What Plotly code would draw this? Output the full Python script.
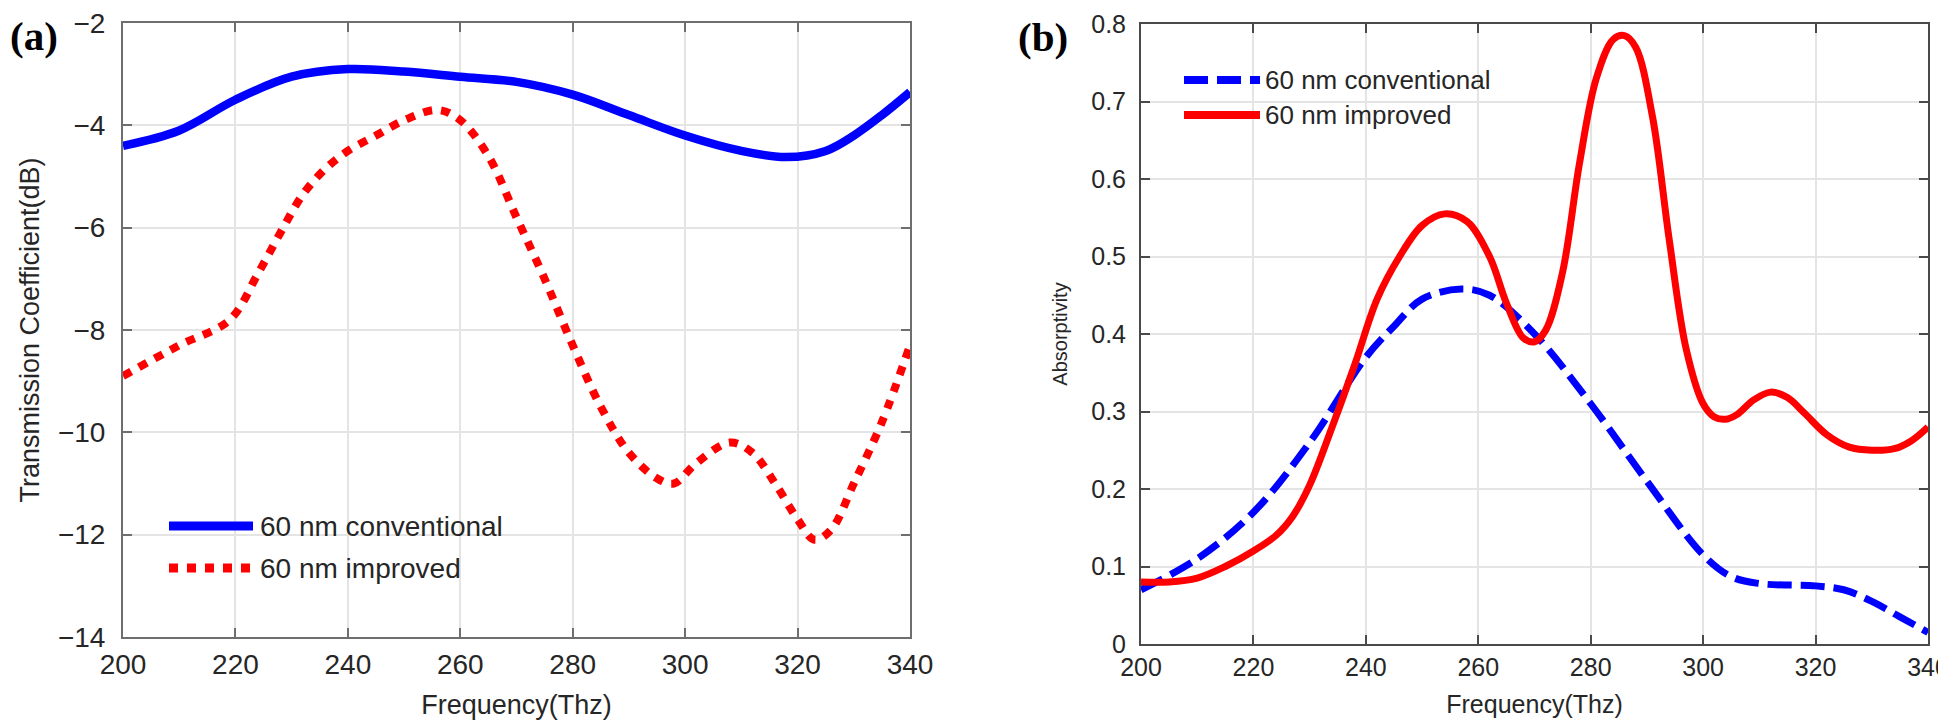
import plotly.graph_objects as go

# ---- data (a) transmission coefficient (dB) ----
freq_a_conv = [200, 210, 220, 230, 240, 250, 260, 270, 280, 290, 300, 310, 318, 325, 330, 335, 340]
tc_conv = [-4.4, -4.1, -3.5, -3.05, -2.9, -2.95, -3.05, -3.15, -3.4, -3.8, -4.2, -4.5, -4.62, -4.5, -4.2, -3.8, -3.35]

freq_a_imp = [200, 210, 219, 224, 228, 232, 236, 240, 245, 250, 256, 260, 265, 270, 275, 280, 285, 290, 295, 298,
              302, 308, 312, 316, 320, 323, 326, 330, 335, 340]
tc_imp = [-8.9, -8.3, -7.8, -6.9, -6.1, -5.35, -4.85, -4.5, -4.2, -3.9, -3.7, -3.9, -4.6, -5.8, -7.0, -8.3, -9.5,
          -10.4, -10.9, -11.0, -10.6, -10.2, -10.4, -11.0, -11.7, -12.1, -11.9, -11.0, -9.8, -8.3]

# ---- data (b) absorptivity ----
freq_b_conv = [200, 210, 220, 230, 240, 245, 250, 257, 262, 270, 280, 290, 300, 305, 310, 320, 325, 330, 335, 340]
ab_conv = [0.07, 0.11, 0.17, 0.26, 0.37, 0.41, 0.445, 0.458, 0.45, 0.40, 0.31, 0.21, 0.115, 0.087, 0.078, 0.075,
           0.07, 0.055, 0.035, 0.015]

freq_b_imp = [200, 205, 210, 215, 220, 224, 227, 230, 234, 238, 242, 246, 250, 254, 258, 262, 265, 268, 270,
              272, 275, 278, 281, 284, 286, 288, 291, 294, 297, 300, 302, 304, 306, 309, 312, 315, 318, 322,
              326, 330, 334, 337, 340]
ab_imp = [0.08, 0.08, 0.085, 0.1, 0.12, 0.14, 0.165, 0.205, 0.28, 0.36, 0.445, 0.5, 0.54, 0.555, 0.545, 0.50,
          0.44, 0.395, 0.39, 0.405, 0.48, 0.62, 0.73, 0.78, 0.785, 0.77, 0.68, 0.52, 0.38, 0.31, 0.293, 0.29,
          0.296, 0.315, 0.325, 0.318, 0.298, 0.27, 0.254, 0.25, 0.252, 0.262, 0.28]

x_ticks = [200, 220, 240, 260, 280, 300, 320, 340]
ya_ticks = [-14, -12, -10, -8, -6, -4, -2]
yb_ticks = [0, 0.1, 0.2, 0.3, 0.4, 0.5, 0.6, 0.7, 0.8]

series_names = ["60 nm conventional", "60 nm improved"]

W, H = 1946, 721
BLUE = "#0000FF"
RED = "#FF0000"
AXA = "#6e6e6e"
AXB = "#4a4a4a"
GRID = "#e4e4e4"
TXT = "#262626"
FONT = "Liberation Sans, Arial, Helvetica"

DOT_A = "9px,9px"
DASH_B = "24px,9px"

fig = go.Figure()
fig.add_trace(go.Scatter(x=freq_a_conv, y=tc_conv, mode="lines", name=series_names[0],
                         line=dict(color=BLUE, width=8.5, shape="spline", smoothing=1.0),
                         xaxis="x", yaxis="y"))
fig.add_trace(go.Scatter(x=freq_a_imp, y=tc_imp, mode="lines", name=series_names[1],
                         line=dict(color=RED, width=8, shape="spline", smoothing=1.0, dash=DOT_A),
                         xaxis="x", yaxis="y"))
fig.add_trace(go.Scatter(x=freq_b_conv, y=ab_conv, mode="lines", name=series_names[0],
                         line=dict(color=BLUE, width=7, shape="spline", smoothing=1.0, dash=DASH_B),
                         xaxis="x2", yaxis="y2"))
fig.add_trace(go.Scatter(x=freq_b_imp, y=ab_imp, mode="lines", name=series_names[1],
                         line=dict(color=RED, width=7, shape="spline", smoothing=1.0),
                         xaxis="x2", yaxis="y2"))


def px_x(p):
    return p / W


def px_y(p):
    return 1 - p / H


def axis_style(col):
    return dict(showline=True, linecolor=col, linewidth=2, mirror="ticks", ticks="inside",
                ticklen=9, tickcolor=col, tickwidth=2, showgrid=True, gridcolor=GRID, gridwidth=2,
                zeroline=False, automargin=False, ticklabeloverflow="allow")


fig.update_layout(
    width=W, height=H, margin=dict(l=0, r=0, t=0, b=0),
    paper_bgcolor="white", plot_bgcolor="white", showlegend=False,
    xaxis=dict(domain=[px_x(115), px_x(902)], range=[200, 340], tickvals=x_ticks, anchor="y",
               tickfont=dict(family=FONT, size=28, color=TXT), ticklabelstandoff=1,
               title=dict(text="Frequency(Thz)", font=dict(family=FONT, size=27, color=TXT), standoff=17),
               **axis_style(AXA)),
    yaxis=dict(domain=[px_y(629), px_y(15)], range=[-14, -2], tickvals=ya_ticks, anchor="x",
               tickfont=dict(family=FONT, size=28, color=TXT), ticklabelstandoff=10,
               title=dict(text="Transmission Coefficient(dB)", font=dict(family=FONT, size=27, color=TXT),
                          standoff=10),
               **axis_style(AXA)),
    xaxis2=dict(domain=[px_x(1133), px_x(1920)], range=[200, 340], tickvals=x_ticks, anchor="y2",
                tickfont=dict(family=FONT, size=25, color=TXT), ticklabelstandoff=0,
                title=dict(text="Frequency(Thz)", font=dict(family=FONT, size=25, color=TXT), standoff=15),
                **axis_style(AXB)),
    yaxis2=dict(domain=[px_y(636), px_y(16)], range=[0, 0.8], tickvals=yb_ticks, anchor="x2",
                tickformat=".1~f",
                tickfont=dict(family=FONT, size=25, color=TXT), ticklabelstandoff=8,
                title=dict(text="Absorptivity", font=dict(family=FONT, size=20, color=TXT), standoff=18),
                **axis_style(AXB)),
)

# ---- in-axes legends (line samples + labels) ----
legend_items = [
    # (x0, x1, y, color, width, dash, label, text_x, font size)
    (161, 245, 518, BLUE, 9, "solid", series_names[0], 251, 28),
    (161, 245, 560, RED, 9, DOT_A, series_names[1], 251, 28),
    (1176, 1252, 72, BLUE, 8, DASH_B, series_names[0], 1256, 26),
    (1176, 1252, 107, RED, 8, "solid", series_names[1], 1256, 26),
]
for x0, x1, yy, col, wd, ds, label, tx, fs in legend_items:
    fig.add_shape(type="line", xref="paper", yref="paper", x0=px_x(x0), x1=px_x(x1),
                  y0=px_y(yy), y1=px_y(yy), line=dict(color=col, width=wd, dash=ds))
    fig.add_annotation(text=label, x=px_x(tx), y=px_y(yy), xref="paper", yref="paper",
                       xanchor="left", yanchor="middle", showarrow=False, borderpad=0,
                       font=dict(family=FONT, size=fs, color=TXT))

fig.add_annotation(text="<b>(a)</b>", x=px_x(1), y=px_y(28), xref="paper", yref="paper",
                   xanchor="left", yanchor="middle", showarrow=False, borderpad=0,
                   font=dict(family="Liberation Serif, Times New Roman", size=41, color="black"))
fig.add_annotation(text="<b>(b)</b>", x=px_x(1009), y=px_y(29), xref="paper", yref="paper",
                   xanchor="left", yanchor="middle", showarrow=False, borderpad=0,
                   font=dict(family="Liberation Serif, Times New Roman", size=41, color="black"))

fig.write_html("out.html")
